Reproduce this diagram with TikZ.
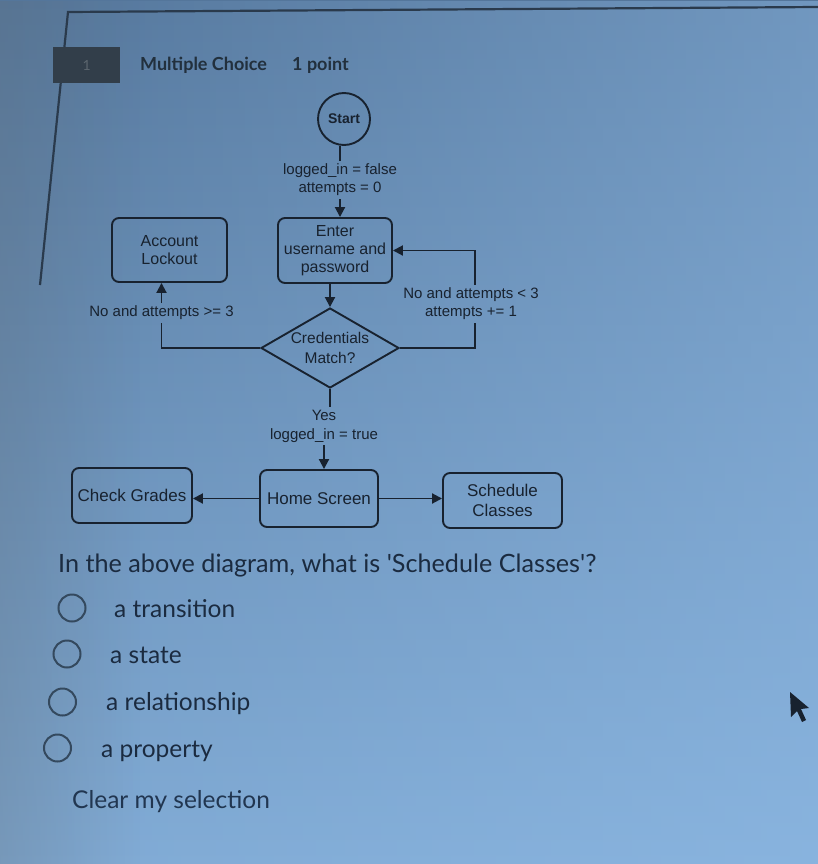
\documentclass[tikz,border=0pt]{standalone}
\usepackage{fontspec}
\setmainfont{Liberation Sans}
\newfontfamily\lato{Lato}
\usetikzlibrary{shapes.geometric,arrows.meta,fadings}
\definecolor{bgtop}{HTML}{54769B}
\definecolor{bgbot}{HTML}{80AAD4}
\definecolor{bgright}{HTML}{94C0EC}
\definecolor{bgleft}{HTML}{62717F}
\definecolor{ink}{HTML}{18222F}
\definecolor{qink}{HTML}{1B2B40}
\definecolor{hdr}{HTML}{22303D}
\definecolor{clr}{HTML}{213650}
\definecolor{framecol}{HTML}{2A3A4C}
\definecolor{qbox}{HTML}{323E4A}
\definecolor{radiocol}{HTML}{34495E}
\begin{document}
\begin{tikzpicture}[x=1pt,y=-1pt,
  box/.style={draw=ink, line width=1.9pt, rounded corners=7pt, align=center, text=ink, inner sep=0pt, font=\fontsize{16}{18}\selectfont},
  bbox/.style={box, font=\fontsize{17}{20}\selectfont},
  lbl/.style={align=center, text=ink, inner sep=3pt, font=\fontsize{15}{18}\selectfont},
  conn/.style={draw=ink, line width=1.9pt},
  arr/.style={conn, -{Triangle[length=10pt,width=10pt]}},
  opt/.style={anchor=base west, text=qink, inner sep=0pt, font=\lato\fontsize{24.5}{28}\selectfont},
  radiobtn/.style={circle, draw=radiocol, line width=2pt, minimum size=27pt, inner sep=0pt},
]
\useasboundingbox (0,0) rectangle (818,864);
% background
\shade[top color=bgtop, bottom color=bgbot] (0,0) rectangle (818,864);
\fill[bgright, path fading=west, opacity=0.45] (0,0) rectangle (818,864);
\fill[bgleft, path fading=east, opacity=0.3] (0,0) rectangle (140,864);
% frame of the question card
\draw[framecol, line width=2.2pt] (818,7) -- (68,12) -- (40,285);
\node[anchor=west, fill=qbox, minimum width=67pt, minimum height=36pt, inner sep=0pt, text=qbox!80!white, font=\lato\fontsize{14}{16}\selectfont] (qn) at (53,65) {1};
\node[anchor=base west, inner sep=0pt, text=hdr, font=\lato\bfseries\fontsize{18}{20}\selectfont] (mc) at (140,71) {Multiple Choice};
\node[anchor=base west, inner sep=0pt, text=hdr, font=\lato\bfseries\fontsize{18}{20}\selectfont] (pt) at (292,71) {1 point};
% flowchart
\node[circle, draw=ink, line width=1.9pt, minimum size=52pt, inner sep=0pt, text=ink, font=\fontsize{14}{16}\selectfont\bfseries] (start) at (344,119) {Start};
\node[lbl] (init) at (340,180) {logged\_in = false\\attempts = 0};
\node[box, minimum width=114pt, minimum height=65pt] (enter) at (335,250.5) {Enter\\username and\\password};
\node[box, minimum width=115pt, minimum height=64pt] (lock) at (169.5,250) {Account\\Lockout};
\node[diamond, draw=ink, line width=1.9pt, minimum width=138pt, minimum height=80pt, inner sep=0pt] (dia) at (330,348) {};
\node[text=ink, align=center, inner sep=0pt, font=\fontsize{15.5}{20}\selectfont] (dtext) at (330,348) {Credentials\\Match?};
\node[lbl] (lblock) at (161.5,313) {No and attempts >= 3};
\node[lbl] (lblr) at (471,304) {No and attempts < 3\\attempts += 1};
\node[lbl, font=\fontsize{15}{19}\selectfont] (yes) at (324,426) {Yes\\logged\_in = true};
\node[bbox, minimum width=120pt, minimum height=55pt] (check) at (132,495.5) {Check Grades};
\node[bbox, minimum width=118pt, minimum height=57pt] (home) at (319,498.5) {Home Screen};
\node[bbox, minimum width=119pt, minimum height=55pt] (sched) at (502.5,500.5) {Schedule\\Classes};
\coordinate (rx) at (475,0);
\draw[conn] (init.north |- start.south) -- (init.north);
\draw[arr] (init.south) -- (init.south |- enter.north);
\draw[arr] (dia.north |- enter.south) -- (dia.north);
\draw[conn] (dia.south) -- (dia.south |- yes.north);
\draw[arr] (yes.south) -- (yes.south |- home.north);
\draw[conn] (dia.west) -| (lblock.south);
\draw[arr] (lblock.north) -- (lblock.north |- lock.south);
\draw[conn] (dia.east) -| (rx |- lblr.south);
\draw[arr] (rx |- lblr.north) |- (enter.east);
\draw[arr] (home.west) -- (home.west -| check.east);
\draw[arr] (home.east) -- (home.east -| sched.west);
% question
\node[opt, font=\lato\fontsize{25.2}{28}\selectfont] (q) at (58,572) {In the above diagram, what is 'Schedule Classes'?};
\node[radiobtn] (r1) at (72,608) {};
\node[radiobtn] (r2) at (67,654) {};
\node[radiobtn] (r3) at (62.5,702) {};
\node[radiobtn] (r4) at (57.5,748) {};
\node[opt] (o1) at (114,617) {a transition};
\node[opt] (o2) at (110,663) {a state};
\node[opt] (o3) at (106,710) {a relationship};
\node[opt] (o4) at (101,757) {a property};
\node[opt, text=clr] (clear) at (72,808) {Clear my selection};
% mouse pointer
\fill[ink] (790,692) -- (791,717) -- (797,711) -- (802,722) -- (806,720) -- (801,709) -- (809,708) -- cycle;
\end{tikzpicture}
\end{document}
